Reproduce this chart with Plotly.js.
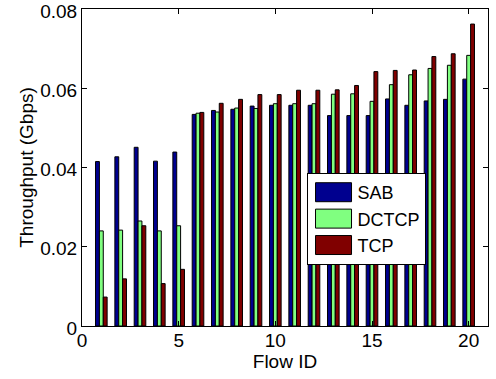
<!DOCTYPE html>
<html><head><meta charset="utf-8">
<script src="https://cdn.plot.ly/plotly-3.0.1.min.js"></script>
<style>body{margin:0;padding:0;background:#fff}#chart{width:496px;height:379px}</style>
</head><body><div id="chart"></div>
<script>
const flows = [1,2,3,4,5,6,7,8,9,10,11,12,13,14,15,16,17,18,19,20];
const sab   = [0.0415,0.0427,0.0451,0.0416,0.0439,0.0534,0.0544,0.0547,0.0555,0.0557,0.0557,0.0557,0.0531,0.0531,0.0531,0.0573,0.0557,0.0568,0.0572,0.0623];
const dctcp = [0.0240,0.0242,0.0265,0.0240,0.0253,0.0537,0.0540,0.0550,0.0549,0.0561,0.0561,0.0561,0.0585,0.0586,0.0567,0.0609,0.0634,0.0650,0.0658,0.0683];
const tcp   = [0.0073,0.0119,0.0253,0.0107,0.0143,0.0539,0.0562,0.0572,0.0584,0.0584,0.0595,0.0595,0.0596,0.0607,0.0642,0.0645,0.0646,0.0680,0.0687,0.0762];
const names = ['SAB','DCTCP','TCP'];
const colors = ['#00008f','#80ff80','#800000'];
const series = [sab, dctcp, tcp];
const xTicks = [0,5,10,15,20];
const yTicks = [0,0.02,0.04,0.06,0.08];
const yTickText = ['0','0.02','0.04','0.06','0.08'];
const font = {family:'Liberation Sans, Arial, Helvetica, sans-serif', color:'#000'};
const F = s => Object.assign({size:s}, font);
const data = series.map((s,i)=>({
  type:'bar', x:flows, y:s, name:names[i],
  marker:{color:colors[i], line:{color:'#000', width:1}}
}));
const layout = {
  width:496, height:379,
  margin:{l:82, r:8, t:9, b:53},
  paper_bgcolor:'#fff', plot_bgcolor:'#fff',
  barmode:'group', bargap:0.4, bargroupgap:0,
  font:F(19),
  showlegend:true,
  legend:{x:0.553, y:0.4826, xanchor:'left', yanchor:'top', bgcolor:'#fff', bordercolor:'#000', borderwidth:1,
    font:F(18), itemwidth:40, tracegroupgap:0},
  xaxis:{range:[0,21], tickvals:xTicks, ticks:'inside', ticklen:5, tickcolor:'#000',
    showline:true, linecolor:'#000', linewidth:1, mirror:'ticks', showgrid:false, zeroline:false,
    tickfont:F(19), ticklabelstandoff:-3, ticklabeloverflow:'allow',
    title:{text:'Flow ID', font:F(19), standoff:0}},
  yaxis:{range:[0,0.08], tickvals:yTicks, ticktext:yTickText,
    ticks:'inside', ticklen:5, tickcolor:'#000',
    showline:true, linecolor:'#000', linewidth:1, mirror:'ticks', showgrid:false, zeroline:false,
    tickfont:F(19), ticklabeloverflow:'allow', ticklabelshift:2,
    title:{text:'Throughput (Gbps)', font:F(19), standoff:1}}
};
Plotly.newPlot('chart', data, layout, {displayModeBar:false, staticPlot:true}).then(gd=>{
  gd.querySelectorAll('.legend .legendpoints path').forEach(p=>{
    p.setAttribute('d','M-17,-9.5H19V9.5H-17Z');
  });
});
</script></body></html>
